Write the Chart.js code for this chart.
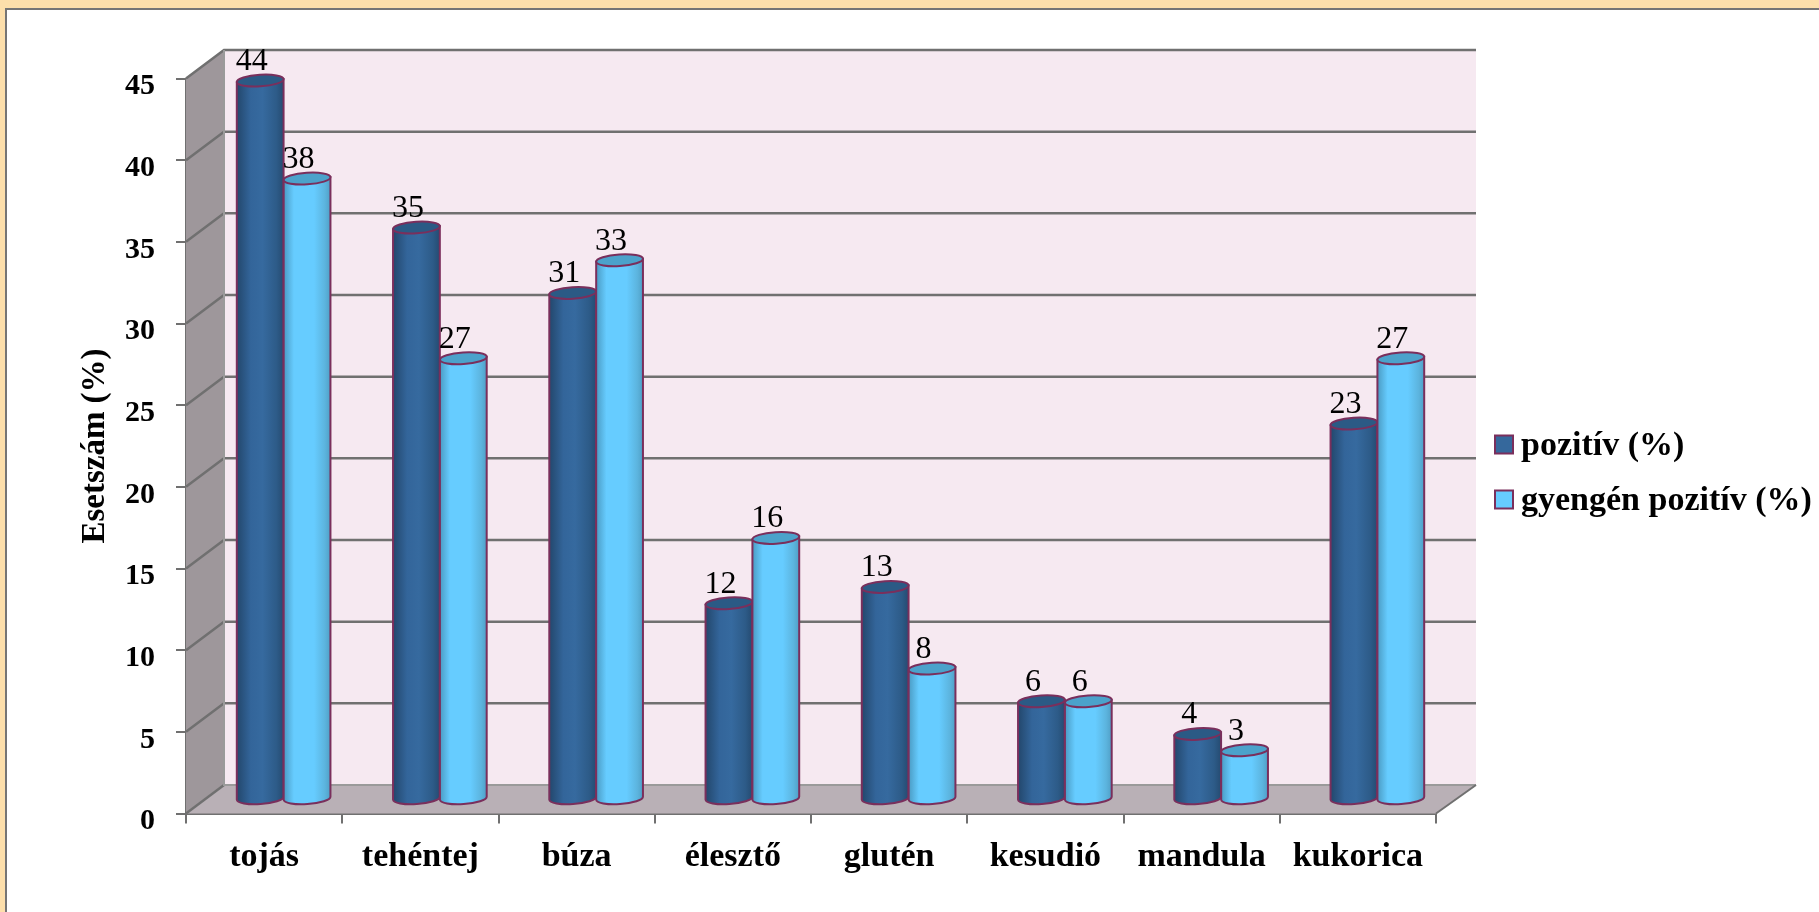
<!DOCTYPE html>
<html lang="hu">
<head>
<meta charset="utf-8">
<title>Esetszám (%)</title>
<script src="https://cdn.jsdelivr.net/npm/chart.js@4"></script>
<style>
  html, body { margin: 0; padding: 0; width: 1819px; height: 912px; overflow: hidden; background: #fddfab; }
  #panel { position: absolute; left: 5px; top: 8px; right: 0; bottom: 0; background: #fff;
           border-left: 2px solid #757575; border-top: 2px solid #757575; }
  canvas { position: absolute; left: 0; top: 0; }
</style>
</head>
<body>
<div id="panel"></div>
<canvas id="chart" width="1819" height="912"></canvas>
<script>
const categories = ['tojás', 'tehéntej', 'búza', 'élesztő', 'glutén', 'kesudió', 'mandula', 'kukorica'];
const positive = [44, 35, 31, 12, 13, 6, 4, 23];
const weaklyPositive = [38, 27, 33, 16, 8, 6, 3, 27];
const seriesNames = ['pozitív (%)', 'gyengén pozitív (%)'];
const yTitle = 'Esetszám (%)';

const SERIF = '"Liberation Serif", serif';
const GRID = '#707070';
const OUTLINE = '#7a2f5c';
const DEPTH = { x: 38, y: 28.5 };        // offset of the back wall from the front plane
const BACK_EXTRA = 2;                    // the back wall runs slightly past the front edge
const skins = [
  { top: '#2b5a85', swatch: '#35689c',
    stops: [[0, '#23476c'], [0.3, '#33659a'], [0.55, '#366a9f'], [0.85, '#2d5b88'], [1, '#254b71']] },
  { top: '#4ba2cb', swatch: '#66ccff',
    stops: [[0, '#4a9bc3'], [0.22, '#66ccff'], [0.65, '#66ccff'], [0.88, '#5cb4de'], [1, '#4f9fc6']] }
];

// Floor, side wall, back wall and the gridlines running across them.
function drawBox(chart) {
  const { ctx, chartArea: a, scales: { y } } = chart;
  const dx = DEPTH.x, dy = DEPTH.y;
  const backRight = a.right + dx + BACK_EXTRA;
  ctx.save();
  ctx.fillStyle = '#f6e9f1';
  ctx.fillRect(a.left + dx, a.top - dy, backRight - a.left - dx, a.bottom - a.top);
  ctx.fillStyle = '#9e979b';
  ctx.beginPath();
  ctx.moveTo(a.left, a.top); ctx.lineTo(a.left + dx, a.top - dy);
  ctx.lineTo(a.left + dx, a.bottom - dy); ctx.lineTo(a.left, a.bottom);
  ctx.closePath(); ctx.fill();
  ctx.fillStyle = '#b9b0b6';
  ctx.beginPath();
  ctx.moveTo(a.left, a.bottom); ctx.lineTo(a.left + dx, a.bottom - dy);
  ctx.lineTo(backRight, a.bottom - dy); ctx.lineTo(a.right, a.bottom);
  ctx.closePath(); ctx.fill();

  ctx.strokeStyle = GRID;
  ctx.lineWidth = 2.5;
  y.ticks.forEach(t => {
    const py = y.getPixelForValue(t.value);
    ctx.beginPath();
    ctx.moveTo(a.left, py);
    ctx.lineTo(a.left + dx, py - dy);
    if (t.value > 0) ctx.lineTo(backRight, py - dy);
    ctx.stroke();
  });
  ctx.lineWidth = 2;
  ctx.strokeStyle = '#9a9a9a';
  ctx.beginPath();
  ctx.moveTo(a.left + dx, a.top - dy); ctx.lineTo(a.left + dx, a.bottom - dy);
  ctx.lineTo(backRight, a.bottom - dy);
  ctx.stroke();
  ctx.strokeStyle = GRID;
  ctx.beginPath();
  ctx.moveTo(a.right, a.bottom); ctx.lineTo(backRight, a.bottom - dy);
  ctx.stroke();
  ctx.restore();
}

// One cylinder standing at mid-depth, sized by the bar element the controller laid out.
function drawCylinder(ctx, bar, skin) {
  const { x, y, base, width } = bar.getProps(['x', 'y', 'base', 'width'], true);
  const cx = x + DEPTH.x / 2 + 0.5;
  const topY = y - DEPTH.y / 2;
  const baseY = base - DEPTH.y / 2;
  const rx = width / 2, ry = 5.8, tilt = -0.065;
  const ox = Math.cos(tilt) * rx, oy = Math.sin(tilt) * rx;

  const fill = ctx.createLinearGradient(cx - rx, 0, cx + rx, 0);
  skin.stops.forEach(([p, c]) => fill.addColorStop(p, c));

  ctx.save();
  ctx.lineWidth = 2;
  ctx.strokeStyle = OUTLINE;
  ctx.fillStyle = fill;
  ctx.beginPath();
  ctx.moveTo(cx - ox, topY - oy);
  ctx.lineTo(cx - ox, baseY - oy);
  ctx.ellipse(cx, baseY, rx, ry, tilt, Math.PI, 0, true);
  ctx.lineTo(cx + ox, topY + oy);
  ctx.closePath();
  ctx.fill();
  ctx.stroke();

  ctx.fillStyle = skin.top;
  ctx.beginPath();
  ctx.ellipse(cx, topY, rx, ry, tilt, 0, Math.PI * 2);
  ctx.fill();
  ctx.stroke();
  ctx.restore();
}

const cylinderPlugin = {
  id: 'cylinders',
  beforeDatasetsDraw(chart) {
    drawBox(chart);
    chart.data.datasets.forEach((ds, i) => {
      chart.getDatasetMeta(i).data.forEach(bar => drawCylinder(chart.ctx, bar, skins[i]));
    });
  },
  beforeDatasetDraw() { return false; },
  afterDatasetsDraw(chart) {
    const { ctx } = chart;
    ctx.save();
    ctx.fillStyle = '#000';
    ctx.font = '32px ' + SERIF;
    ctx.textAlign = 'center';
    ctx.textBaseline = 'middle';
    chart.data.datasets.forEach((ds, i) => {
      chart.getDatasetMeta(i).data.forEach((bar, j) => {
        const px = bar.x + DEPTH.x / 2 - 8;
        const py = bar.y - DEPTH.y / 2 - 19;
        ctx.fillText(String(ds.data[j]), px, py);
      });
    });
    ctx.restore();
  }
};

const legendPlugin = {
  id: 'sideLegend',
  afterDraw(chart) {
    const { ctx } = chart;
    const rows = [444.5, 499.5];
    ctx.save();
    ctx.textBaseline = 'middle';
    ctx.font = 'bold 34px ' + SERIF;
    chart.data.datasets.forEach((ds, i) => {
      ctx.fillStyle = skins[i].swatch;
      ctx.strokeStyle = OUTLINE;
      ctx.lineWidth = 2;
      ctx.fillRect(1495, rows[i] - 9, 18, 18);
      ctx.strokeRect(1495, rows[i] - 9, 18, 18);
      ctx.fillStyle = '#000';
      ctx.fillText(ds.label, 1521, rows[i] + 2);
    });
    ctx.restore();
  }
};

new Chart(document.getElementById('chart'), {
  type: 'bar',
  data: {
    labels: categories,
    datasets: [
      { label: seriesNames[0], data: positive, backgroundColor: skins[0].swatch },
      { label: seriesNames[1], data: weaklyPositive, backgroundColor: skins[1].swatch }
    ]
  },
  plugins: [cylinderPlugin, legendPlugin],
  options: {
    responsive: false,
    animation: false,
    layout: { padding: { top: 78.5, right: 383, bottom: 0, left: 0 } },
    datasets: { bar: { categoryPercentage: 0.6, barPercentage: 1 } },
    plugins: { legend: { display: false }, tooltip: { enabled: false } },
    scales: {
      x: {
        afterFit(s) { s.height = 98.5; },
        border: { color: GRID, width: 2 },
        grid: { drawOnChartArea: false, color: GRID, lineWidth: 2, tickLength: 10 },
        ticks: { color: '#000', padding: 13, maxRotation: 0, autoSkip: false,
                 font: { family: SERIF, weight: 'bold', size: 34 } }
      },
      y: {
        min: 0, max: 45,
        afterFit(s) { s.width = 186; },
        border: { color: GRID, width: 2 },
        grid: { drawOnChartArea: false, color: GRID, lineWidth: 2, tickLength: 10 },
        ticks: { color: '#000', stepSize: 5, padding: 21, labelOffset: 8,
                 font: { family: SERIF, weight: 'bold', size: 30 } },
        title: { display: true, text: yTitle, color: '#000', padding: { top: 76, bottom: 0 },
                 font: { family: SERIF, weight: 'bold', size: 33 } }
      }
    }
  }
});
</script>
</body>
</html>
